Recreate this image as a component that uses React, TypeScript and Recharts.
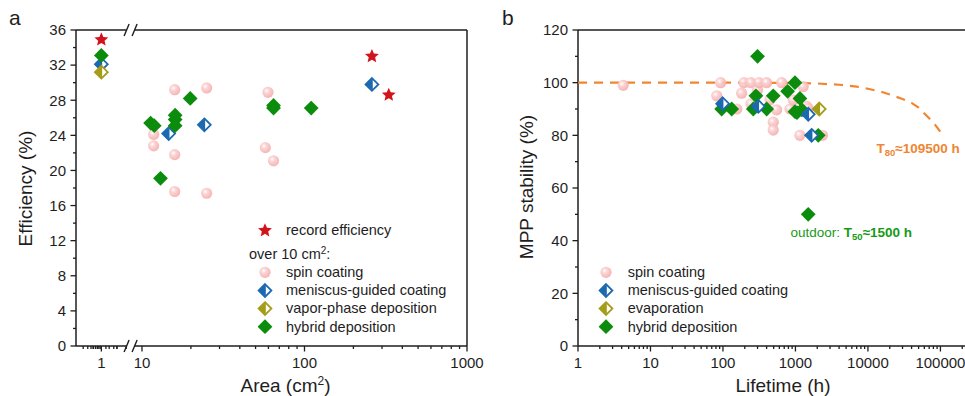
import React from 'react';
import { ScatterChart, Scatter, XAxis, YAxis, ReferenceLine, ReferenceDot } from 'recharts';

const FONT = "'Liberation Sans', Arial, Helvetica, sans-serif";
const INK = '#1e1e1e';
const RED = '#d3131b';
const BLUE = '#1b69b1';
const OLIVE = '#a59c17';
const GREEN = '#0c8c0c';
const ORANGE = '#ef8632';
const GREEN_TXT = '#169a16';

// ---------- Panel a: efficiency vs area ----------
const recordArea = [1, 260, 330];
const recordEff = [34.9, 33.0, 28.6];
const spinArea = [11.8, 11.8, 15.9, 15.9, 15.9, 25, 25, 59.6, 57.4, 64.5];
const spinEff = [24.1, 22.8, 29.2, 21.8, 17.6, 29.4, 17.4, 28.9, 22.6, 21.1];
const meniscusArea = [1, 14.6, 24.2, 260];
const meniscusEff = [32.1, 24.2, 25.2, 29.8];
const vaporArea = [1];
const vaporEff = [31.2];
const hybridArea = [1, 11.3, 11.9, 13.0, 16.0, 16.0, 16.0, 19.8, 64.5, 64.5, 110];
const hybridEff = [33.1, 25.4, 25.1, 19.1, 26.3, 25.8, 25.1, 28.2, 27.4, 27.1, 27.1];

const areaMajorTicks = [1, 10, 100, 1000];
const areaMinorTicks = [0.2, 0.3, 0.4, 0.5, 0.6, 0.7, 0.8, 0.9, 2, 3, 4, 5, 6, 7, 8,
  20, 30, 40, 50, 60, 70, 80, 90, 200, 300, 400, 500, 600, 700, 800, 900];
const effTicks = [0, 2, 4, 6, 8, 10, 12, 14, 16, 18, 20, 22, 24, 26, 28, 30, 32, 34, 36];

// ---------- Panel b: MPP stability vs lifetime ----------
const spinLife = [4.2, 82, 93, 155, 181, 195, 243, 244, 300, 315, 400, 445, 494, 494, 550, 645, 840, 935, 1150, 1280, 1430, 1500, 2360];
const spinStab = [99, 95, 100, 90, 96, 100, 100, 92, 97.2, 100, 100, 93.5, 85, 82, 89.7, 100, 90, 93.4, 80, 98.5, 91, 90.2, 80];
const hybridLife = [96, 132, 262, 285, 300, 401, 494, 780, 985, 985, 1050, 1153, 1230, 2064, 1500];
const hybridStab = [90, 90, 90, 95, 110, 90, 95, 96.7, 100, 89, 88.6, 94, 89.7, 80, 50];
const meniscusLife = [99, 307, 1503, 1672];
const meniscusStab = [92, 91, 88, 80];
const evapLife = [2132];
const evapStab = [90];
const fitLife = [1, 10, 100, 1000, 2000, 4000, 7000, 10000, 15000, 20000, 30000, 40000, 50000, 60000, 70000, 80000, 90000, 100000, 109500];
const fitStab = [100, 100, 100, 99.9, 99.7, 99.2, 98.5, 97.7, 96.6, 95.5, 93.8, 92.3, 90.5, 88.3, 86.5, 84.8, 83, 81.3, 80];

const lifeMajorTicks = [1, 10, 100, 1000, 10000, 100000];
const stabTicks = [0, 10, 20, 30, 40, 50, 60, 70, 80, 90, 100, 110, 120];

// broken area axis: compressed log segment around 1, regular log above the break
const brokenPos = (a: number) => (a >= 5 ? Math.log10(a) : 0.75 + 0.16 * Math.log10(a));
const AREA_DOMAIN: [number, number] = [0.594, 3];
const AREA_BREAK = 0.93;

const zipA = (xs: number[], ys: number[]) => xs.map((a, i) => ({ area: a, eff: ys[i], u: brokenPos(a) }));
const zipB = (xs: number[], ys: number[]) => xs.map((t, i) => ({ life: t, stab: ys[i] }));

const lifeMinorTicks: number[] = [];
[1, 10, 100, 1000, 10000, 100000].forEach((d) => {
  for (let m = 2; m <= 9; m++) if (m * d <= 300000) lifeMinorTicks.push(m * d);
});

// ---------- marker shapes ----------
const Star = ({ cx, cy, r = 7.3, fill = RED }: any) => {
  const pts: string[] = [];
  for (let i = 0; i < 10; i++) {
    const ang = -Math.PI / 2 + (i * Math.PI) / 5;
    const rr = i % 2 === 0 ? r : r * 0.46;
    pts.push(`${cx + rr * Math.cos(ang)},${cy + rr * Math.sin(ang)}`);
  }
  return <polygon points={pts.join(' ')} fill={fill} />;
};

const Ball = ({ cx, cy, r = 5.6 }: any) => (
  <g>
    <defs>
      <radialGradient id="pinkBall" cx="38%" cy="36%" r="65%">
        <stop offset="0%" stopColor="#ffffff" />
        <stop offset="35%" stopColor="#fbcfcf" />
        <stop offset="100%" stopColor="#f4adad" />
      </radialGradient>
    </defs>
    <circle cx={cx} cy={cy} r={r} fill="url(#pinkBall)" fillOpacity={0.9} />
  </g>
);

const HalfDiamond = ({ cx, cy, color, s = 6.4 }: any) => (
  <g>
    <polygon points={`${cx},${cy - s} ${cx + s},${cy} ${cx},${cy + s} ${cx - s},${cy}`} fill="#fff" stroke={color} strokeWidth={1.8} />
    <polygon points={`${cx + 0.8},${cy - s} ${cx + 0.8},${cy + s} ${cx - s},${cy}`} fill={color} />
  </g>
);

const Diamond = ({ cx, cy, s = 7.4, fill = GREEN }: any) => (
  <polygon points={`${cx},${cy - s} ${cx + s},${cy} ${cx},${cy + s} ${cx - s},${cy}`} fill={fill} />
);

const BreakMark = ({ cx, cy }: any) => (
  <g>
    <rect x={cx - 4} y={cy - 3} width={8} height={6} fill="#fff" />
    <line x1={cx - 6.5} y1={cy + 6} x2={cx - 1.5} y2={cy - 6} stroke={INK} strokeWidth={1.4} />
    <line x1={cx + 1.5} y1={cy + 6} x2={cx + 6.5} y2={cy - 6} stroke={INK} strokeWidth={1.4} />
  </g>
);

// ---------- ticks ----------
const XTick = ({ x, y, payload, labels }: any) => {
  const lab = labels.find((l: any) => Math.abs(l.v - payload.value) < 1e-6);
  return (
    <g>
      <line x1={x} x2={x} y1={y} y2={y + (lab ? 5.5 : 3)} stroke={INK} strokeWidth={1.3} />
      {lab && (
        <text x={x} y={y + 21.5} textAnchor="middle" fontSize={15} fill={INK} fontFamily={FONT}>
          {lab.t}
        </text>
      )}
    </g>
  );
};

const YTick = ({ x, y, payload, step }: any) => {
  const major = Math.abs(payload.value % step) < 1e-6;
  return (
    <g>
      <line x1={x} x2={x - (major ? 5.5 : 3)} y1={y} y2={y} stroke={INK} strokeWidth={1.3} />
      {major && (
        <text x={x - 10} y={y + 5.3} textAnchor="end" fontSize={15} fill={INK} fontFamily={FONT}>
          {payload.value}
        </text>
      )}
    </g>
  );
};

const areaLabels = areaMajorTicks.map((v) => ({ v: brokenPos(v), t: String(v) }));
const areaTickPos = [...areaMajorTicks, ...areaMinorTicks].map(brokenPos).sort((a, b) => a - b);
const lifeLabels = lifeMajorTicks.map((v) => ({ v, t: String(v) }));
const lifeTicks = [...lifeMajorTicks, ...lifeMinorTicks].sort((a, b) => a - b);

const frame = { stroke: INK, strokeWidth: 1.5 };

const PanelA = () => (
  <ScatterChart width={490} height={396} margin={{ top: 30, right: 23, bottom: 0, left: 0 }}>
    <XAxis
      type="number"
      dataKey="u"
      domain={AREA_DOMAIN}
      allowDataOverflow
      ticks={areaTickPos}
      interval={0}
      tickSize={0}
      tickMargin={0}
      axisLine={false}
      tickLine={false}
      height={50}
      tick={(p: any) => <XTick {...p} labels={areaLabels} />}
    />
    <YAxis
      type="number"
      dataKey="eff"
      domain={[0, 36]}
      ticks={effTicks}
      interval={0}
      width={76}
      tickSize={0}
      tickMargin={0}
      tickLine={false}
      axisLine={frame}
      tick={(p: any) => <YTick {...p} step={4} />}
    />
    <ReferenceLine y={0} {...frame} />
    <ReferenceLine y={36} {...frame} />
    <ReferenceLine x={3} {...frame} />
    <Scatter data={zipA(spinArea, spinEff)} isAnimationActive={false} shape={(p: any) => <Ball cx={p.cx} cy={p.cy} />} />
    <Scatter data={zipA(meniscusArea, meniscusEff)} isAnimationActive={false} shape={(p: any) => <HalfDiamond cx={p.cx} cy={p.cy} color={BLUE} />} />
    <Scatter data={zipA(vaporArea, vaporEff)} isAnimationActive={false} shape={(p: any) => <HalfDiamond cx={p.cx} cy={p.cy} color={OLIVE} />} />
    <Scatter data={zipA(hybridArea, hybridEff)} isAnimationActive={false} shape={(p: any) => <Diamond cx={p.cx} cy={p.cy} />} />
    <Scatter data={zipA(recordArea, recordEff)} isAnimationActive={false} shape={(p: any) => <Star cx={p.cx} cy={p.cy} />} />
    <ReferenceDot x={AREA_BREAK} y={0} r={0} ifOverflow="visible" shape={(p: any) => <BreakMark cx={p.cx} cy={p.cy} />} />
    <ReferenceDot x={AREA_BREAK} y={36} r={0} ifOverflow="visible" shape={(p: any) => <BreakMark cx={p.cx} cy={p.cy} />} />
  </ScatterChart>
);

const PanelB = () => (
  <ScatterChart width={500} height={396} margin={{ top: 30, right: 5, bottom: 0, left: 0 }}>
    <XAxis
      type="number"
      dataKey="life"
      scale="log"
      domain={[1, 300000]}
      allowDataOverflow
      ticks={lifeTicks}
      interval={0}
      tickSize={0}
      tickMargin={0}
      tickLine={false}
      axisLine={frame}
      height={50}
      tick={(p: any) => <XTick {...p} labels={lifeLabels} />}
    />
    <YAxis
      type="number"
      dataKey="stab"
      domain={[0, 120]}
      ticks={stabTicks}
      interval={0}
      width={98}
      tickSize={0}
      tickMargin={0}
      tickLine={false}
      axisLine={frame}
      tick={(p: any) => <YTick {...p} step={20} />}
    />
    <ReferenceLine y={120} {...frame} />
    <Scatter
      data={zipB(fitLife, fitStab)}
      isAnimationActive={false}
      line={{ stroke: ORANGE, strokeWidth: 2.2, strokeDasharray: '9 7' }}
      lineType="joint"
      shape={() => <g />}
    />
    <Scatter data={zipB(spinLife, spinStab)} isAnimationActive={false} shape={(p: any) => <Ball cx={p.cx} cy={p.cy} />} />
    <Scatter data={zipB(hybridLife, hybridStab)} isAnimationActive={false} shape={(p: any) => <Diamond cx={p.cx} cy={p.cy} />} />
    <Scatter data={zipB(meniscusLife, meniscusStab)} isAnimationActive={false} shape={(p: any) => <HalfDiamond cx={p.cx} cy={p.cy} color={BLUE} />} />
    <Scatter data={zipB(evapLife, evapStab)} isAnimationActive={false} shape={(p: any) => <HalfDiamond cx={p.cx} cy={p.cy} color={OLIVE} />} />
  </ScatterChart>
);

const legendRows = [272.3, 290.5, 308.6, 326.7];

const Overlay = () => (
  <svg width={965} height={396} style={{ position: 'absolute', left: 0, top: 0, pointerEvents: 'none' }} fontFamily={FONT}>
    {/* panel letters */}
    <text x={9} y={25} fontSize={21} fill={INK}>a</text>
    <text x={502} y={25} fontSize={21} fill={INK}>b</text>
    {/* axis titles */}
    <text x={285.5} y={392} fontSize={19} fill={INK} textAnchor="middle">
      Area (cm<tspan fontSize={12} dy={-7}>2</tspan><tspan dy={7}>)</tspan>
    </text>
    <text transform="rotate(-90 32 188.5)" x={32} y={188.5} fontSize={19} fill={INK} textAnchor="middle">Efficiency (%)</text>
    <text x={783} y={392} fontSize={19} fill={INK} textAnchor="middle">Lifetime (h)</text>
    <text transform="rotate(-90 532.5 187)" x={532.5} y={187} fontSize={19} fill={INK} textAnchor="middle">MPP stability (%)</text>

    {/* legend a */}
    <Star cx={265} cy={230.5} />
    <text x={286} y={235} fontSize={14.5} fill={INK}>record efficiency</text>
    <text x={249} y={258.5} fontSize={14.5} fill={INK}>
      over 10 cm<tspan fontSize={10} dy={-5}>2</tspan><tspan dy={5}>:</tspan>
    </text>
    <Ball cx={265} cy={legendRows[0]} />
    <text x={286} y={legendRows[0] + 4.8} fontSize={14.5} fill={INK}>spin coating</text>
    <HalfDiamond cx={265} cy={legendRows[1]} color={BLUE} />
    <text x={286} y={legendRows[1] + 4.8} fontSize={14.5} fill={INK}>meniscus-guided coating</text>
    <HalfDiamond cx={265} cy={legendRows[2]} color={OLIVE} />
    <text x={286} y={legendRows[2] + 4.8} fontSize={14.5} fill={INK}>vapor-phase deposition</text>
    <Diamond cx={265} cy={legendRows[3]} />
    <text x={286} y={legendRows[3] + 4.8} fontSize={14.5} fill={INK}>hybrid deposition</text>

    {/* legend b */}
    <Ball cx={606} cy={legendRows[0]} />
    <text x={627.7} y={legendRows[0] + 4.8} fontSize={14.5} fill={INK}>spin coating</text>
    <HalfDiamond cx={606} cy={legendRows[1]} color={BLUE} />
    <text x={627.7} y={legendRows[1] + 4.8} fontSize={14.5} fill={INK}>meniscus-guided coating</text>
    <HalfDiamond cx={606} cy={legendRows[2]} color={OLIVE} />
    <text x={627.7} y={legendRows[2] + 4.8} fontSize={14.5} fill={INK}>evaporation</text>
    <Diamond cx={606} cy={legendRows[3]} />
    <text x={627.7} y={legendRows[3] + 4.8} fontSize={14.5} fill={INK}>hybrid deposition</text>

    {/* annotations */}
    <text x={876.5} y={152.5} fontSize={13.5} fontWeight="bold" fill={ORANGE}>
      T<tspan fontSize={9.5} dy={3}>80</tspan><tspan dy={-3}>≈109500 h</tspan>
    </text>
    <text x={790.5} y={237} fontSize={13.5} fill={GREEN_TXT}>
      outdoor:{' '}<tspan fontWeight="bold">T</tspan><tspan fontWeight="bold" fontSize={9.5} dy={3}>50</tspan><tspan fontWeight="bold" dy={-3}>≈1500 h</tspan>
    </text>
  </svg>
);

export default function App() {
  return (
    <div style={{ position: 'fixed', left: 0, top: 0, width: 965, height: 396, overflow: 'hidden', background: '#fff', fontFamily: FONT }}>
      <div style={{ position: 'absolute', left: 0, top: 0 }}>
        <PanelA />
      </div>
      <div style={{ position: 'absolute', left: 480, top: 0 }}>
        <PanelB />
      </div>
      <Overlay />
    </div>
  );
}
